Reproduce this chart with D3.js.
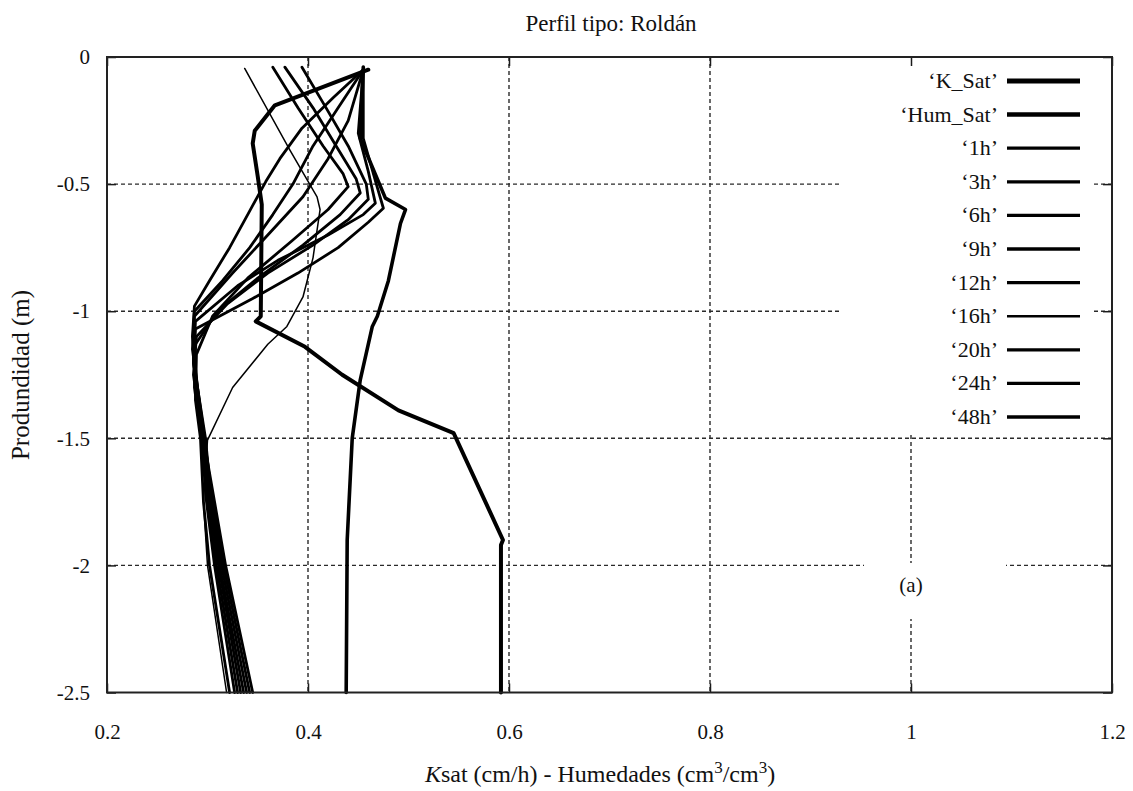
<!DOCTYPE html>
<html>
<head>
<meta charset="utf-8">
<script src="https://cdn.jsdelivr.net/npm/d3@7"></script>
<style>
  body { margin: 0; background: #fff; }
  svg { display: block; }
  text { font-family: "Liberation Serif", "DejaVu Serif", serif; fill: #111; }
</style>
</head>
<body>
<svg id="chart" width="1133" height="791"></svg>
<script>
// Axis ticks
const xTicks = [0.2, 0.4, 0.6, 0.8, 1, 1.2];
const yTicks = [0, -0.5, -1, -1.5, -2, -2.5];

// Profiles: [depth (m), value]
const kSat = [[-0.05,0.46],[-0.19,0.367],[-0.29,0.347],[-0.34,0.345],[-0.47,0.35],[-0.58,0.354],[-1.02,0.353],[-1.04,0.348],[-1.14,0.397],[-1.25,0.434],[-1.39,0.49],[-1.48,0.545],[-1.90,0.594],[-1.92,0.592],[-2.5,0.592]];
const humSat = [[-0.04,0.455],[-0.32,0.452],[-0.555,0.477],[-0.60,0.497],[-0.655,0.492],[-0.88,0.48],[-1.02,0.469],[-1.06,0.464],[-1.27,0.452],[-1.5,0.444],[-1.9,0.439],[-2.5,0.438]];
const h1 = [[-0.05,0.455],[-0.16,0.425],[-0.28,0.394],[-0.40,0.372],[-0.49,0.358],[-0.62,0.34],[-0.75,0.322],[-0.88,0.302],[-0.98,0.287],[-1.1,0.285],[-1.3,0.29],[-1.5,0.296],[-1.75,0.307],[-2.0,0.318],[-2.5,0.345]];
const h3 = [[-0.05,0.455],[-0.2,0.43],[-0.35,0.405],[-0.5,0.385],[-0.62,0.365],[-0.75,0.342],[-0.88,0.315],[-1.0,0.287],[-1.15,0.285],[-1.5,0.297],[-1.75,0.305],[-2.0,0.316],[-2.5,0.342]];
const h6 = [[-0.05,0.455],[-0.25,0.44],[-0.4,0.42],[-0.55,0.395],[-0.7,0.36],[-0.85,0.325],[-1.02,0.287],[-1.2,0.286],[-1.5,0.298],[-1.75,0.304],[-2.0,0.314],[-2.5,0.339]];
const h9 = [[-0.05,0.455],[-0.3,0.45],[-0.45,0.46],[-0.575,0.467],[-0.62,0.455],[-0.7,0.42],[-0.8,0.37],[-0.9,0.33],[-1.04,0.288],[-1.2,0.286],[-1.5,0.297],[-1.75,0.303],[-2.0,0.312],[-2.5,0.336]];
const h12 = [[-0.05,0.455],[-0.32,0.455],[-0.5,0.468],[-0.595,0.475],[-0.65,0.46],[-0.75,0.43],[-0.85,0.39],[-0.95,0.345],[-1.07,0.288],[-1.2,0.286],[-1.5,0.296],[-1.75,0.302],[-2.0,0.311],[-2.5,0.333]];
const h16 = [[-0.045,0.337],[-0.366,0.382],[-0.55,0.409],[-0.60,0.412],[-0.79,0.405],[-0.944,0.395],[-1.06,0.379],[-1.13,0.36],[-1.3,0.325],[-1.507,0.30],[-1.75,0.296],[-2.0,0.30],[-2.5,0.319]];
const h20 = [[-0.04,0.394],[-0.2,0.418],[-0.35,0.44],[-0.5,0.458],[-0.56,0.46],[-0.64,0.44],[-0.74,0.405],[-0.85,0.36],[-0.97,0.32],[-1.1,0.289],[-1.25,0.286],[-1.5,0.295],[-1.75,0.30],[-2.0,0.309],[-2.5,0.33]];
const h24 = [[-0.04,0.377],[-0.2,0.405],[-0.35,0.428],[-0.48,0.448],[-0.535,0.452],[-0.62,0.432],[-0.74,0.395],[-0.87,0.35],[-1.0,0.31],[-1.13,0.288],[-1.3,0.287],[-1.5,0.294],[-1.75,0.299],[-2.0,0.307],[-2.5,0.327]];
const h48 = [[-0.04,0.365],[-0.2,0.39],[-0.35,0.415],[-0.46,0.435],[-0.51,0.44],[-0.6,0.42],[-0.72,0.385],[-0.87,0.34],[-1.02,0.305],[-1.17,0.289],[-1.35,0.288],[-1.5,0.293],[-1.75,0.296],[-2.0,0.302],[-2.5,0.322]];

const seriesNames = ["\u2018K_Sat\u2019", "\u2018Hum_Sat\u2019", "\u20181h\u2019", "\u20183h\u2019", "\u20186h\u2019", "\u20189h\u2019", "\u201812h\u2019", "\u201816h\u2019", "\u201820h\u2019", "\u201824h\u2019", "\u201848h\u2019"];
const seriesData = [kSat, humSat, h1, h3, h6, h9, h12, h16, h20, h24, h48];

// Stroke widths (plot, legend)
const lineWidths = [4, 3.6, 2.8, 2.8, 2.8, 2.8, 2.8, 1.5, 2.8, 2.8, 2.8];
const legendWidths = [5, 4.5, 3.3, 3.3, 3.3, 3.3, 3.3, 2.4, 3.3, 3.3, 3.3];

const svg = d3.select("#chart");
const L = 107, R = 1112, T = 57, B = 692.5;
const x = d3.scaleLinear().domain([0.2, 1.2]).range([L, R]);
const y = d3.scaleLinear().domain([-2.5, 0]).range([B, T]);
const ink = "#1a1a1a";
const serif = "'Liberation Serif', 'DejaVu Serif', serif";

// Grid
const grid = svg.append("g").attr("stroke", "#2a2a2a").attr("stroke-width", 1.4).attr("stroke-dasharray", "4,3");
grid.selectAll("line.gx").data(xTicks.slice(1, -1)).join("line")
  .attr("x1", d => x(d)).attr("x2", d => x(d)).attr("y1", T).attr("y2", B);
grid.selectAll("line.gy").data(yTicks.slice(1, -1)).join("line")
  .attr("x1", L).attr("x2", R).attr("y1", d => y(d)).attr("y2", d => y(d));

// Opaque backing for the legend and the panel label
const legendBox = { x0: 840, x1: 1093, y0: T, y1: 435 };
svg.append("rect").attr("x", legendBox.x0).attr("y", legendBox.y0)
  .attr("width", legendBox.x1 - legendBox.x0).attr("height", legendBox.y1 - legendBox.y0).attr("fill", "#fff");
svg.append("rect").attr("x", 864).attr("y", 563).attr("width", 142).attr("height", 56).attr("fill", "#fff");

// Profiles
const line = d3.line().x(d => x(d[1])).y(d => y(d[0]));
svg.append("g").selectAll("path").data(seriesData).join("path")
  .attr("d", line).attr("fill", "none").attr("stroke", "#000")
  .attr("stroke-width", (d, i) => lineWidths[i]).attr("stroke-linejoin", "round").attr("stroke-linecap", "round");

// Axes with inward ticks on all four sides
const fmt = d => String(d);
svg.append("g").attr("transform", `translate(0,${B})`)
  .call(d3.axisBottom(x).tickValues(xTicks).tickFormat(fmt).tickSizeInner(-9).tickSizeOuter(0).tickPadding(32))
  .call(g => g.select(".domain").remove())
  .call(g => g.selectAll("line").attr("stroke", ink).attr("stroke-width", 1.5))
  .call(g => g.selectAll("text").attr("font-size", 21).attr("fill", "#111").style("font-family", serif));
svg.append("g").attr("transform", `translate(0,${T})`)
  .call(d3.axisTop(x).tickValues(xTicks).tickFormat("").tickSizeInner(-9).tickSizeOuter(0))
  .call(g => g.select(".domain").remove())
  .call(g => g.selectAll("line").attr("stroke", ink).attr("stroke-width", 1.5));
svg.append("g").attr("transform", `translate(${L},0)`)
  .call(d3.axisLeft(y).tickValues(yTicks).tickFormat(fmt).tickSizeInner(-9).tickSizeOuter(0).tickPadding(17))
  .call(g => g.select(".domain").remove())
  .call(g => g.selectAll("line").attr("stroke", ink).attr("stroke-width", 1.5))
  .call(g => g.selectAll("text").attr("font-size", 21).attr("fill", "#111").style("font-family", serif));
svg.append("g").attr("transform", `translate(${R},0)`)
  .call(d3.axisRight(y).tickValues(yTicks).tickFormat("").tickSizeInner(-9).tickSizeOuter(0))
  .call(g => g.select(".domain").remove())
  .call(g => g.selectAll("line").attr("stroke", ink).attr("stroke-width", 1.5));

// Frame
svg.append("rect").attr("x", L).attr("y", T).attr("width", R - L).attr("height", B - T)
  .attr("fill", "none").attr("stroke", "#222").attr("stroke-width", 2);

// Legend
const legend = svg.append("g");
const rowY = i => 81 + i * 33.6;
legend.selectAll("text").data(seriesNames).join("text")
  .attr("x", 998).attr("y", (d, i) => rowY(i) + 7).attr("text-anchor", "end").attr("font-size", 22).text(d => d);
legend.selectAll("line").data(seriesNames).join("line")
  .attr("x1", 1007).attr("x2", 1080).attr("y1", (d, i) => rowY(i)).attr("y2", (d, i) => rowY(i))
  .attr("stroke", "#000").attr("stroke-width", (d, i) => legendWidths[i]);

// Panel label
svg.append("text").attr("x", x(1)).attr("y", 592).attr("text-anchor", "middle").attr("font-size", 21).text("(a)");

// Title
svg.append("text").attr("x", 611).attr("y", 31).attr("text-anchor", "middle").attr("font-size", 23).text("Perfil tipo: Rold\u00e1n");

// Axis titles
const xt = svg.append("text").attr("x", 600).attr("y", 782).attr("text-anchor", "middle").attr("font-size", 24);
xt.append("tspan").attr("font-style", "italic").text("K");
xt.append("tspan").text("sat (cm/h) - Humedades (cm");
xt.append("tspan").attr("dy", -9).attr("font-size", 17).text("3");
xt.append("tspan").attr("dy", 9).text("/cm");
xt.append("tspan").attr("dy", -9).attr("font-size", 17).text("3");
xt.append("tspan").attr("dy", 9).text(")");

svg.append("text").attr("transform", "translate(29,375) rotate(-90)").attr("text-anchor", "middle")
  .attr("font-size", 25).text("Produndidad (m)");
</script>
</body>
</html>
